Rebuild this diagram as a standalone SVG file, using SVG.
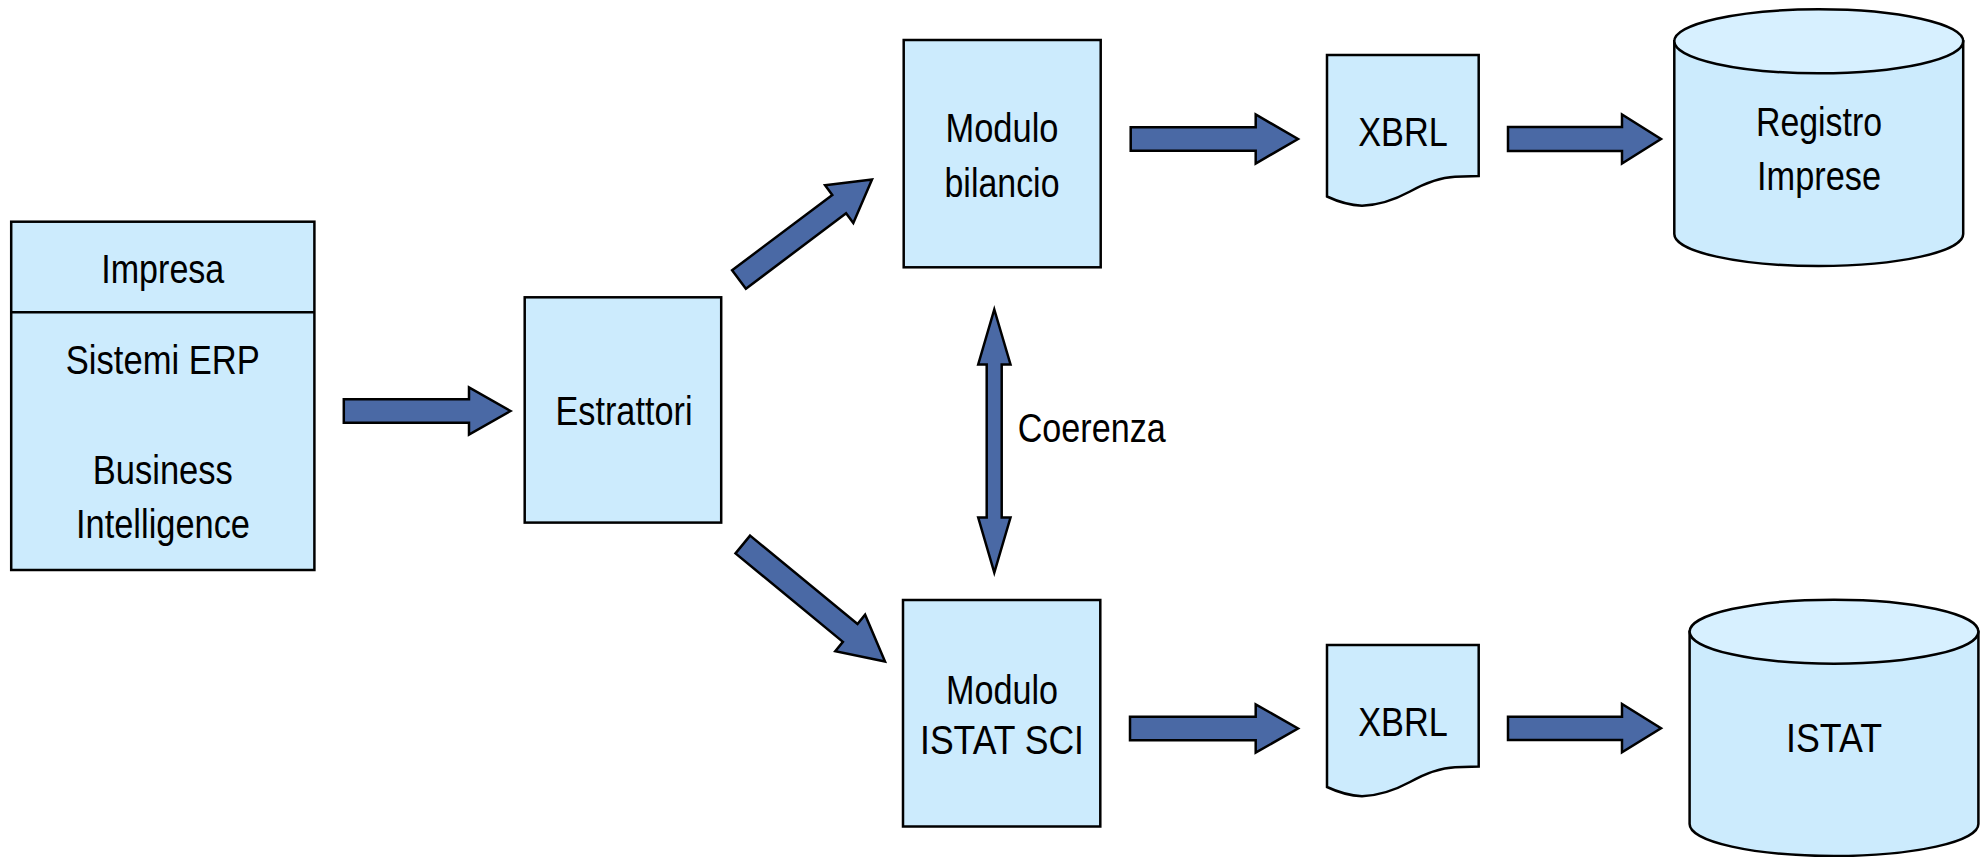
<svg xmlns="http://www.w3.org/2000/svg" width="1984" height="857" viewBox="0 0 1984 857">
<style>
.box{fill:#CCEBFD;stroke:#000;stroke-width:2.5}
.cyltop{fill:#D7F0FF;stroke:#000;stroke-width:2.5}
.arr{fill:#4A69A5;stroke:#000;stroke-width:2.5;stroke-linejoin:miter}
.t{font-family:"Liberation Sans",Arial,sans-serif;font-size:41px;fill:#000;text-anchor:middle}
.ts{font-family:"Liberation Sans",Arial,sans-serif;font-size:41px;fill:#000}
</style>
<rect width="1984" height="857" fill="#fff"/>
<g id="impresa">
<rect class="box" x="11.2" y="221.7" width="303.2" height="348.3"/>
<line x1="11.2" y1="312.3" x2="314.4" y2="312.3" stroke="#000" stroke-width="2.5"/>
<text class="t" x="162.8" y="283.3" textLength="123" lengthAdjust="spacingAndGlyphs">Impresa</text>
<text class="t" x="162.8" y="373.5" textLength="194" lengthAdjust="spacingAndGlyphs">Sistemi ERP</text>
<text class="t" x="162.8" y="484" textLength="140" lengthAdjust="spacingAndGlyphs">Business</text>
<text class="t" x="163" y="538.3" textLength="174" lengthAdjust="spacingAndGlyphs">Intelligence</text>
</g>
<g id="estrattori">
<rect class="box" x="524.7" y="297.3" width="196.5" height="225.3"/>
<text class="t" x="624" y="425" textLength="137" lengthAdjust="spacingAndGlyphs">Estrattori</text>
</g>
<g id="modulo-bilancio">
<rect class="box" x="903.7" y="40" width="197" height="227.3"/>
<text class="t" x="1002" y="141.7" textLength="113" lengthAdjust="spacingAndGlyphs">Modulo</text>
<text class="t" x="1002" y="196.7" textLength="115" lengthAdjust="spacingAndGlyphs">bilancio</text>
</g>
<g id="modulo-istat">
<rect class="box" x="903" y="600" width="197.3" height="226.5"/>
<text class="t" x="1002" y="703.6" textLength="112" lengthAdjust="spacingAndGlyphs">Modulo</text>
<text class="t" x="1002" y="754.2" textLength="164" lengthAdjust="spacingAndGlyphs">ISTAT SCI</text>
</g>
<g id="xbrl-top">
<path class="box" d="M1327,55 H1478.7 V176 L1455,176.7 Q1435,177.5 1410,191.5 Q1385,205 1362,205.7 Q1345,205 1327,196.5 Z"/>
<text class="t" x="1403" y="146" textLength="89.5" lengthAdjust="spacingAndGlyphs">XBRL</text>
</g>
<g id="xbrl-bottom">
<path class="box" d="M1327,645 H1478.7 V766.5 L1455,767.2 Q1435,768 1410,782 Q1385,795.5 1362,796.2 Q1345,795.5 1327,787 Z"/>
<text class="t" x="1403" y="735.5" textLength="89.5" lengthAdjust="spacingAndGlyphs">XBRL</text>
</g>
<g id="registro-imprese">
<path class="box" d="M1674.3,41.3 V234 A144.45,32 0 0 0 1963.2,234 V41.3 Z"/>
<ellipse class="cyltop" cx="1818.75" cy="41.3" rx="144.45" ry="32"/>
<text class="t" x="1819" y="135.5" textLength="126" lengthAdjust="spacingAndGlyphs">Registro</text>
<text class="t" x="1819" y="190" textLength="124" lengthAdjust="spacingAndGlyphs">Imprese</text>
</g>
<g id="istat">
<path class="box" d="M1689.6,631.7 V824 A144.4,32 0 0 0 1978.4,824 V631.7 Z"/>
<ellipse class="cyltop" cx="1834" cy="631.7" rx="144.4" ry="32"/>
<text class="t" x="1834" y="751.7" textLength="96" lengthAdjust="spacingAndGlyphs">ISTAT</text>
</g>
<g id="connectors">
<polygon class="arr" points="343.8,399.3 469,399.3 469,387.5 510.5,411 469,434.5 469,422.7 343.8,422.7"/>
<polygon class="arr" points="732.1,270.3 832.3,194.9 825.1,185.3 872,179.5 853.3,222.9 846.1,213.3 745.9,288.7"/>
<polygon class="arr" points="750.1,535.6 857.5,624 865.1,614.7 885,661.5 835.3,651.1 842.9,641.8 735.5,553.4"/>
<polygon class="arr" points="1130.7,127.3 1255.7,127.3 1255.7,114.5 1298,139 1255.7,163.5 1255.7,150.7 1130.7,150.7"/>
<polygon class="arr" points="1508,127 1622,127 1622,114.5 1661,139 1622,163.5 1622,151 1508,151"/>
<polygon class="arr" points="1130,716.8 1255.7,716.8 1255.7,704.3 1298,728.5 1255.7,752.7 1255.7,740.2 1130,740.2"/>
<polygon class="arr" points="1508,716.7 1622,716.7 1622,704 1661,728.2 1622,752.3 1622,740 1508,740"/>
<polygon class="arr" points="994.3,309.5 1010.5,364.5 1001.7,364.5 1001.7,517.5 1010.5,517.5 994.3,572.5 978.2,517.5 986.7,517.5 986.7,364.5 978.2,364.5"/>
<text class="ts" x="1017.7" y="441.8" textLength="148" lengthAdjust="spacingAndGlyphs">Coerenza</text>
</g>
</svg>
